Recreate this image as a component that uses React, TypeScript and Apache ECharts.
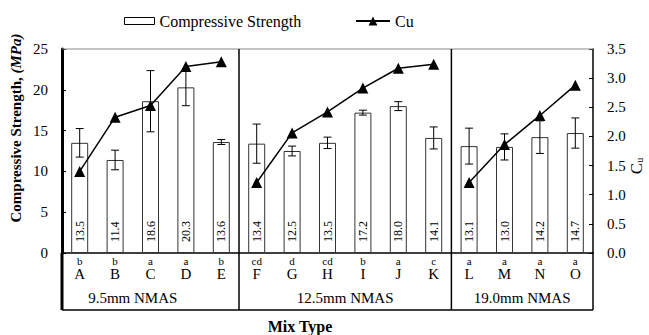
import React, { useEffect, useRef } from 'react';
import * as echarts from 'echarts';

const categories = ['A', 'B', 'C', 'D', 'E', 'F', 'G', 'H', 'I', 'J', 'K', 'L', 'M', 'N', 'O'];
const significance = ['b', 'b', 'a', 'a', 'b', 'cd', 'd', 'cd', 'b', 'a', 'c', 'a', 'a', 'a', 'a'];
const strength = [13.5, 11.4, 18.6, 20.3, 13.6, 13.4, 12.5, 13.5, 17.2, 18.0, 14.1, 13.1, 13.0, 14.2, 14.7];
const strengthErr = [1.75, 1.2, 3.75, 2.25, 0.3, 2.4, 0.6, 0.7, 0.3, 0.55, 1.35, 2.2, 1.6, 2.0, 1.85];
const cu = [1.4, 2.33, 2.53, 3.2, 3.28, 1.21, 2.06, 2.42, 2.83, 3.17, 3.24, 1.21, 1.86, 2.36, 2.88];
const groups = ['9.5mm NMAS', '12.5mm NMAS', '19.0mm NMAS'];
const groupSizes = [5, 6, 4];
const leftAxis = { min: 0, max: 25, interval: 5 };
const rightAxis = { min: 0, max: 3.5, interval: 0.5 };

const FONT = 'Liberation Serif';
const rt = (size: number, extra: any = {}) => ({ fontFamily: FONT, fontSize: size, color: '#000', fill: '#000', ...extra });

export default function App() {
  const ref = useRef<HTMLDivElement>(null);
  useEffect(() => {
    document.body.style.margin = '0';
    if (!ref.current) return;
    const chart = echarts.init(ref.current, null, { renderer: 'svg' });
    const L = 62, R = 56, T = 49, B = 82;
    const W = 649, H = 335;
    const plotRight = W - R;
    const plotBottom = H - B;
    const boxBottom = 310;

    const cuSeries: any[] = [];
    let start = 0;
    groupSizes.forEach((n) => {
      const data = cu.map((v, i) => (i >= start && i < start + n ? v : '-'));
      cuSeries.push({
        name: 'Cu',
        type: 'line',
        yAxisIndex: 1,
        data,
        symbol: 'triangle',
        symbolSize: 11,
        lineStyle: { color: '#000', width: 1.5 },
        itemStyle: { color: '#000' },
        z: 5,
        connectNulls: false,
      });
      start += n;
    });

    const errData = strength.map((v, i) => [i, v - strengthErr[i], v + strengthErr[i]]);

    chart.setOption({
      animation: false,
      textStyle: { fontFamily: FONT, color: '#000' },
      grid: { left: L, right: R, top: T, bottom: B, containLabel: false },
      legend: [
        {
          data: [{ name: 'Compressive Strength', icon: 'rect' }],
          left: 119,
          top: 8,
          itemWidth: 30,
          itemHeight: 7,
          itemGap: 4,
          formatter: (n: string) => `{t|${n}}`,
          textStyle: { fontFamily: FONT, fontSize: 16, color: '#000', rich: { t: rt(16) } },
          itemStyle: { color: '#fff', borderColor: '#000', borderWidth: 1 },
        },
        {
          data: ['Cu'],
          left: 350,
          top: 8,
          itemWidth: 34,
          itemHeight: 11,
          formatter: (n: string) => `{t|${n}}`,
          textStyle: { fontFamily: FONT, fontSize: 16, color: '#000', rich: { t: rt(16) } },
        },
      ],
      xAxis: {
        type: 'category',
        data: categories,
        axisLine: { show: true, lineStyle: { color: '#000', width: 1.5 } },
        axisTick: { show: false },
        axisLabel: {
          margin: 3,
          interval: 0,
          formatter: (v: string, i: number) => `{s|${significance[i]}}\n{c|${v}}`,
          rich: {
            s: rt(11, { lineHeight: 10 }),
            c: rt(15, { lineHeight: 16 }),
          },
        },
      },
      yAxis: [
        {
          type: 'value',
          ...leftAxis,
          axisLine: { show: true, lineStyle: { color: '#000', width: 3 } },
          axisTick: { show: true, inside: true, length: 4, lineStyle: { color: '#000', width: 1 } },
          axisLabel: {
            fontFamily: FONT,
            fontSize: 15,
            color: '#000',
            margin: 14,
            formatter: (v: number) => `{t|${v}}`,
            rich: { t: rt(15) },
          },
          splitLine: { show: false },
        },
        {
          type: 'value',
          ...rightAxis,
          position: 'right',
          axisLine: { show: true, lineStyle: { color: '#000', width: 1.5 } },
          axisTick: { show: true, inside: true, length: 4, lineStyle: { color: '#000', width: 1 } },
          axisLabel: {
            fontFamily: FONT,
            fontSize: 15,
            color: '#000',
            margin: 14,
            formatter: (v: number) => `{t|${v.toFixed(1)}}`,
            rich: { t: rt(15) },
          },
          splitLine: { show: false },
        },
      ],
      series: [
        {
          name: 'Compressive Strength',
          type: 'bar',
          data: strength,
          barWidth: 17,
          itemStyle: { color: '#fff', borderColor: '#333', borderWidth: 1 },
          label: {
            show: true,
            position: 'insideBottom',
            rotate: 90,
            align: 'left',
            verticalAlign: 'middle',
            distance: 11,
            fontFamily: FONT,
            fontSize: 12,
            color: '#000',
            formatter: (p: any) => `{t|${Number(p.value).toFixed(1)}}`,
            rich: { t: rt(12) },
          },
          z: 2,
        },
        {
          name: 'err',
          type: 'custom',
          data: errData,
          encode: { x: 0, y: [1, 2] },
          z: 4,
          renderItem: (params: any, api: any) => {
            const x = api.value(0);
            const lo = api.coord([x, api.value(1)]);
            const hi = api.coord([x, api.value(2)]);
            const hw = 4;
            const st = { stroke: '#000', lineWidth: 1 };
            return {
              type: 'group',
              children: [
                { type: 'line', shape: { x1: hi[0], y1: hi[1], x2: lo[0], y2: lo[1] }, style: st },
                { type: 'line', shape: { x1: hi[0] - hw, y1: hi[1], x2: hi[0] + hw, y2: hi[1] }, style: st },
                { type: 'line', shape: { x1: lo[0] - hw, y1: lo[1], x2: lo[0] + hw, y2: lo[1] }, style: st },
              ],
            };
          },
        },
        ...cuSeries,
      ],
    });

    const px = (i: number) => chart.convertToPixel({ xAxisIndex: 0 }, i) as number;
    const graphic: any[] = [];
    const line = (x1: number, y1: number, x2: number, y2: number, w: number, c = '#000') => ({
      type: 'line',
      shape: { x1, y1, x2, y2 },
      style: { stroke: c, lineWidth: w },
      z: 10,
    });
    graphic.push(line(L, T, plotRight, T, 1, '#888'));
    graphic.push(line(L, plotBottom, L, boxBottom, 3));
    graphic.push(line(plotRight, plotBottom, plotRight, boxBottom, 1.5));
    graphic.push(line(L, boxBottom, plotRight, boxBottom, 1.5));
    let s = 0;
    groupSizes.forEach((n, gi) => {
      const x0 = gi === 0 ? L : (px(s - 1) + px(s)) / 2;
      const x1 = gi === groupSizes.length - 1 ? plotRight : (px(s + n - 1) + px(s + n)) / 2;
      if (gi > 0) graphic.push(line(x0, T, x0, boxBottom, 1.5));
      const cx = gi === 0 ? (px(s) + px(s + n - 2)) / 2 : (x0 + x1) / 2;
      graphic.push({
        type: 'text',
        x: cx,
        y: 298,
        style: {
          text: `{t|${groups[gi]}}`,
          align: 'center',
          verticalAlign: 'middle',
          rich: { t: rt(15) },
        },
        z: 10,
      });
      s += n;
    });
    graphic.push({
      type: 'text',
      x: 300,
      y: 326,
      style: {
        text: '{t|Mix Type}',
        align: 'center',
        verticalAlign: 'middle',
        rich: { t: rt(16, { fontWeight: 'bold' }) },
      },
    });
    graphic.push({
      type: 'text',
      x: 16,
      y: 128,
      rotation: Math.PI / 2,
      style: {
        text: '{b|Compressive Strength, }{i|(MPa)}',
        align: 'center',
        verticalAlign: 'middle',
        rich: {
          b: rt(15, { fontWeight: 'bold' }),
          i: rt(15, { fontWeight: 'bold', fontStyle: 'italic' }),
        },
      },
    });
    graphic.push({
      type: 'text',
      x: 636,
      y: 166,
      rotation: Math.PI / 2,
      style: {
        text: '{c|C}{u|u}',
        align: 'center',
        verticalAlign: 'middle',
        rich: {
          c: rt(17),
          u: rt(10, { padding: [7, 0, 0, 0] }),
        },
      },
    });
    chart.setOption({ graphic });

    return () => chart.dispose();
  }, []);
  return <div ref={ref} style={{ width: 649, height: 335 }} />;
}
